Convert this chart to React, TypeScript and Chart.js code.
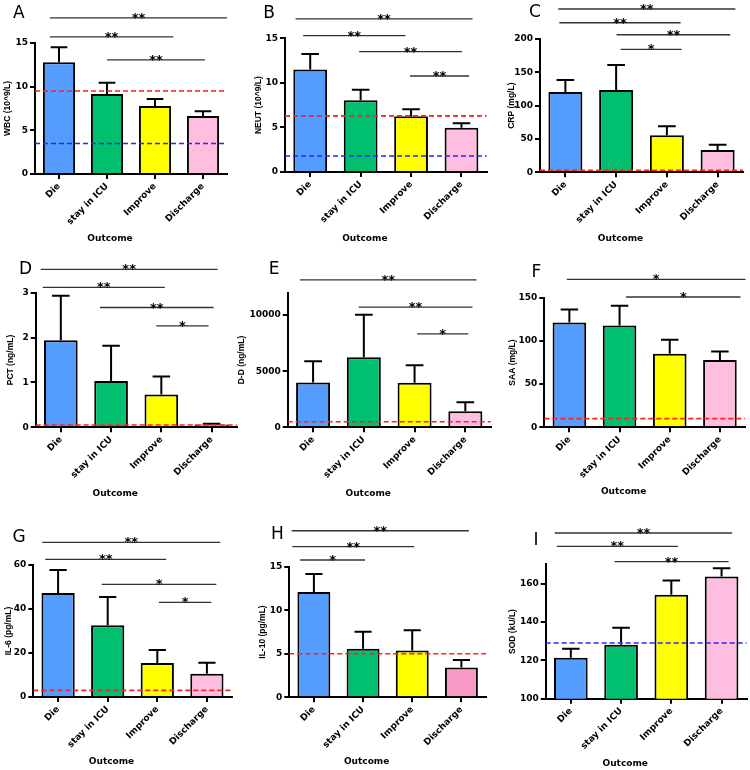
import React, { useEffect, useRef } from 'react';
import { Chart, registerables } from 'chart.js';
Chart.register(...registerables);

// ---------- data ----------
const categories = ['Die', 'stay in ICU', 'Improve', 'Discharge'];

const wbcMean = [12.8, 9.16, 7.79, 6.64];
const wbcErr = [1.7, 1.3, 0.8, 0.54];
const neutMean = [11.5, 8.04, 6.25, 4.97];
const neutErr = [1.74, 1.2, 0.78, 0.49];
const crpMean = [120.5, 123.5, 55.5, 33.5];
const crpErr = [18, 37.5, 13.5, 7.9];
const pctMean = [1.94, 1.03, 0.73, 0.06];
const pctErr = [0.99, 0.79, 0.4, 0.02];
const ddMean = [4000, 6250, 3980, 1430];
const ddErr = [1890, 3780, 1560, 800];
const saaMean = [121.2, 117.8, 85.2, 77.9];
const saaErr = [15, 23, 16.1, 9.9];
const il6Mean = [47.3, 32.6, 15.5, 10.6];
const il6Err = [10.4, 12.9, 5.9, 5.0];
const il10Mean = [12.08, 5.58, 5.38, 3.42];
const il10Err = [2.07, 1.96, 2.31, 0.85];
const sodMean = [121.3, 128.1, 154.1, 163.6];
const sodErr = [4.7, 8.8, 7.5, 4.4];

// reference lines (upper = red, lower = blue), per panel A..I
const upperLimits = [9.5, 6.3, 3, 0.05, 500, 10, 3, 5, null];
const lowerLimits = [3.5, 1.8, null, null, null, null, null, null, 129];

// significance brackets: [fromCategory, toCategory, yValue, label]
const wbcSig = [[-0.19, 3.5, 17.87, '**'], [-0.19, 2.38, 15.69, '**'], [1.0, 3.04, 13.06, '**']];
const neutSig = [[-0.29, 3.22, 17.17, '**'], [-0.14, 1.89, 15.3, '**'], [0.97, 3.01, 13.5, '**'], [1.98, 3.15, 10.77, '**']];
const crpSig = [[-0.14, 3.35, 245, '**'], [-0.12, 2.27, 224.4, '**'], [1.01, 3.25, 206.4, '**'], [1.09, 2.29, 184.5, '*']];
const pctSig = [[-0.4, 3.12, 3.52, '**'], [-0.36, 2.07, 3.12, '**'], [0.78, 3.04, 2.67, '**'], [1.9, 2.94, 2.26, '*']];
const ddSig = [[-0.26, 3.22, 13150, '**'], [0.9, 3.14, 10710, '**'], [2.05, 3.06, 8330, '*']];
const saaSig = [[-0.05, 3.51, 171.3, '*'], [1.13, 3.41, 150.8, '*']];
const il6Sig = [[-0.32, 3.27, 70.3, '**'], [-0.26, 2.18, 62.6, '**'], [0.88, 3.19, 51.2, '*'], [2.03, 3.09, 43.0, '*']];
const il10Sig = [[-0.45, 3.15, 19.13, '**'], [-0.44, 2.04, 17.3, '**'], [-0.28, 1.04, 15.77, '*']];
const sodSig = [[-0.32, 3.21, 186.3, '**'], [-0.28, 2.13, 179.3, '**'], [0.87, 3.14, 171.4, '**']];

const panelLetters = ['A', 'B', 'C', 'D', 'E', 'F', 'G', 'H', 'I'];
const yTitles = ['WBC (10^9/L)', 'NEUT (10^9/L)', 'CRP (mg/L)', 'PCT (ng/mL)', 'D-D (ng/mL)', 'SAA (mg/L)', 'IL-6 (pg/mL)', 'IL-10 (pg/mL)', 'SOD (kU/L)'];
const yMins = [0, 0, 0, 0, 0, 0, 0, 0, 100];
const yMaxs = [15, 15, 200, 3, 12000, 150, 60, 15, 170];
const ySteps = [5, 5, 50, 1, 5000, 50, 20, 5, 20];
const xTitle = 'Outcome';

const means = [wbcMean, neutMean, crpMean, pctMean, ddMean, saaMean, il6Mean, il10Mean, sodMean];
const errs = [wbcErr, neutErr, crpErr, pctErr, ddErr, saaErr, il6Err, il10Err, sodErr];
const sigs = [wbcSig, neutSig, crpSig, pctSig, ddSig, saaSig, il6Sig, il10Sig, sodSig];

// ---------- styles / layout ----------
const barColors = ['#559CFF', '#00BF6F', '#FFFF00', '#FFBDE0'];
const barColorsH = ['#559CFF', '#00BF6F', '#FFFF00', '#F79AC8'];

// L,R,T,B: plot area edges; TX: y-title centre; LX,LY: panel letter; OY: x-title centre
const geoms = [
  { L: 35, R: 227, T: 43, B: 174, TX: 7.5, LX: 18.7, LY: 14, OY: 239 },
  { L: 285, R: 486.7, T: 38.3, B: 172, TX: 258.5, LX: 269, LY: 14, OY: 239 },
  { L: 540, R: 743, T: 39, B: 172.3, TX: 511.5, LX: 535, LY: 13, OY: 239 },
  { L: 35.7, R: 236.7, T: 292.7, B: 427.3, TX: 11, LX: 25.5, LY: 270, OY: 494 },
  { L: 287.7, R: 490.7, T: 292.7, B: 427.3, TX: 242, LX: 274, LY: 270, OY: 494 },
  { L: 544.3, R: 745, T: 297.7, B: 427.3, TX: 512.5, LX: 536.5, LY: 273, OY: 492 },
  { L: 33.3, R: 231.7, T: 565, B: 697, TX: 8.5, LX: 19, LY: 538, OY: 762 },
  { L: 289.3, R: 486, T: 566.7, B: 697.3, TX: 262.5, LX: 277.5, LY: 535, OY: 762 },
  { L: 545.7, R: 746.7, T: 564.3, B: 698.7, TX: 512.5, LX: 536, LY: 541, OY: 764 },
];

const W = 750;
const H = 770;
const X_AXIS_H = 62;
const tickFont = { family: 'DejaVu Sans', weight: 'bold' as const, size: 9 };
const yTitleFont = { family: 'Liberation Sans', weight: 'bold' as const, size: 8.5, lineHeight: 1.2 };

function makeConfig(i: number) {
  const g = geoms[i];
  const mean = means[i];
  const err = errs[i];
  const sig = sigs[i];
  const padLeft = g.TX - (yTitleFont.size * yTitleFont.lineHeight) / 2;
  const min = yMins[i];
  const max = yMaxs[i];
  const step = ySteps[i];

  const overlay = {
    id: 'overlay' + i,
    afterDatasetsDraw(chart: any) {
      const { ctx, chartArea } = chart;
      const ys = chart.scales.y;
      const meta = chart.getDatasetMeta(0);
      ctx.save();
      // error bars
      ctx.strokeStyle = '#000';
      ctx.lineWidth = 2;
      meta.data.forEach((bar: any, k: number) => {
        const top = ys.getPixelForValue(mean[k] + err[k]);
        const hw = bar.width * 0.26;
        ctx.beginPath();
        ctx.moveTo(bar.x, bar.y);
        ctx.lineTo(bar.x, top);
        ctx.moveTo(bar.x - hw, top);
        ctx.lineTo(bar.x + hw, top);
        ctx.stroke();
      });
      // reference lines
      ctx.setLineDash([5, 3]);
      ctx.lineWidth = 1.6;
      const up = upperLimits[i];
      if (up !== null) {
        const y = ys.getPixelForValue(up);
        ctx.strokeStyle = '#FF2020';
        ctx.beginPath();
        ctx.moveTo(chartArea.left, y);
        ctx.lineTo(chartArea.right, y);
        ctx.stroke();
      }
      const lo = lowerLimits[i];
      if (lo !== null) {
        const y = ys.getPixelForValue(lo);
        ctx.strokeStyle = '#2626FF';
        ctx.beginPath();
        ctx.moveTo(chartArea.left, y);
        ctx.lineTo(chartArea.right, y);
        ctx.stroke();
      }
      ctx.restore();
    },
    afterDraw(chart: any) {
      const { ctx, chartArea } = chart;
      const xs = chart.scales.x;
      const ys = chart.scales.y;
      ctx.save();
      // significance brackets
      sig.forEach((s: any) => {
        const x1 = xs.getPixelForValue(s[0]);
        const x2 = xs.getPixelForValue(s[1]);
        const y = ys.getPixelForValue(s[2]);
        ctx.strokeStyle = '#333';
        ctx.lineWidth = 1.3;
        ctx.beginPath();
        ctx.moveTo(x1, y);
        ctx.lineTo(x2, y);
        ctx.stroke();
        ctx.fillStyle = '#000';
        ctx.font = 'bold 13px "DejaVu Sans"';
        ctx.textAlign = 'center';
        ctx.textBaseline = 'alphabetic';
        ctx.fillText(s[3], (x1 + x2) / 2, y + 4);
      });
      // panel letter
      ctx.fillStyle = '#000';
      ctx.font = '17px "DejaVu Sans"';
      ctx.textAlign = 'center';
      ctx.textBaseline = 'middle';
      ctx.fillText(panelLetters[i], g.LX, g.LY);
      // x title
      ctx.font = 'bold 9px "DejaVu Sans"';
      ctx.fillText(xTitle, (chartArea.left + chartArea.right) / 2 - 21, g.OY);
      ctx.restore();
    },
  };

  return {
    type: 'bar' as const,
    data: {
      labels: categories,
      datasets: [
        {
          data: mean,
          backgroundColor: i === 7 ? barColorsH : barColors,
          borderColor: '#000',
          borderWidth: 2,
          borderSkipped: 'start',
          barPercentage: 0.67,
          categoryPercentage: 1,
        },
      ],
    },
    options: {
      responsive: false,
      animation: false,
      devicePixelRatio: 1,
      events: [],
      layout: {
        padding: { left: padLeft, right: W - g.R, top: g.T, bottom: H - g.B - X_AXIS_H },
      },
      plugins: { legend: { display: false }, tooltip: { enabled: false }, title: { display: false } },
      scales: {
        x: {
          type: 'category',
          offset: true,
          grid: { display: true, offset: false, drawOnChartArea: false, drawTicks: true, tickLength: 5, color: '#000', lineWidth: 2 },
          border: { display: true, color: '#000', width: 2 },
          ticks: { font: tickFont, color: '#000', minRotation: 45, maxRotation: 45, autoSkip: false, padding: 2 },
          afterFit: (s: any) => {
            s.height = X_AXIS_H;
            s.paddingLeft = 0;
            s.paddingRight = 0;
          },
        },
        y: {
          type: 'linear',
          min: min,
          max: max,
          grid: { display: true, drawOnChartArea: false, drawTicks: true, tickLength: 5, color: '#000', lineWidth: 2 },
          border: { display: true, color: '#000', width: 2 },
          ticks: { stepSize: step, autoSkip: false, font: tickFont, color: '#000', padding: 2, callback: (v: any) => String(v) },
          title: { display: true, text: yTitles[i], font: yTitleFont, color: '#000', padding: 0 },
          afterBuildTicks: (s: any) => {
            const t: any[] = [];
            for (let k = 0; min + k * step <= max + 1e-9; k++) t.push({ value: min + k * step });
            s.ticks = t;
          },
          afterFit: (s: any) => {
            s.width = g.L - padLeft;
            s.paddingTop = 0;
            s.paddingBottom = 0;
          },
        },
      },
    },
    plugins: [overlay],
  };
}

function Panel({ index }: { index: number }) {
  const ref = useRef<HTMLCanvasElement | null>(null);
  useEffect(() => {
    if (!ref.current) return;
    const chart = new Chart(ref.current, makeConfig(index) as any);
    return () => chart.destroy();
  }, [index]);
  return (
    <canvas
      ref={ref}
      width={W}
      height={H}
      style={{ position: 'absolute', left: 0, top: 0, width: W, height: H }}
    />
  );
}

export default function App() {
  return (
    <div style={{ position: 'absolute', left: 0, top: 0, width: W, height: H, background: '#fff' }}>
      {panelLetters.map((_, i) => (
        <Panel key={i} index={i} />
      ))}
    </div>
  );
}
